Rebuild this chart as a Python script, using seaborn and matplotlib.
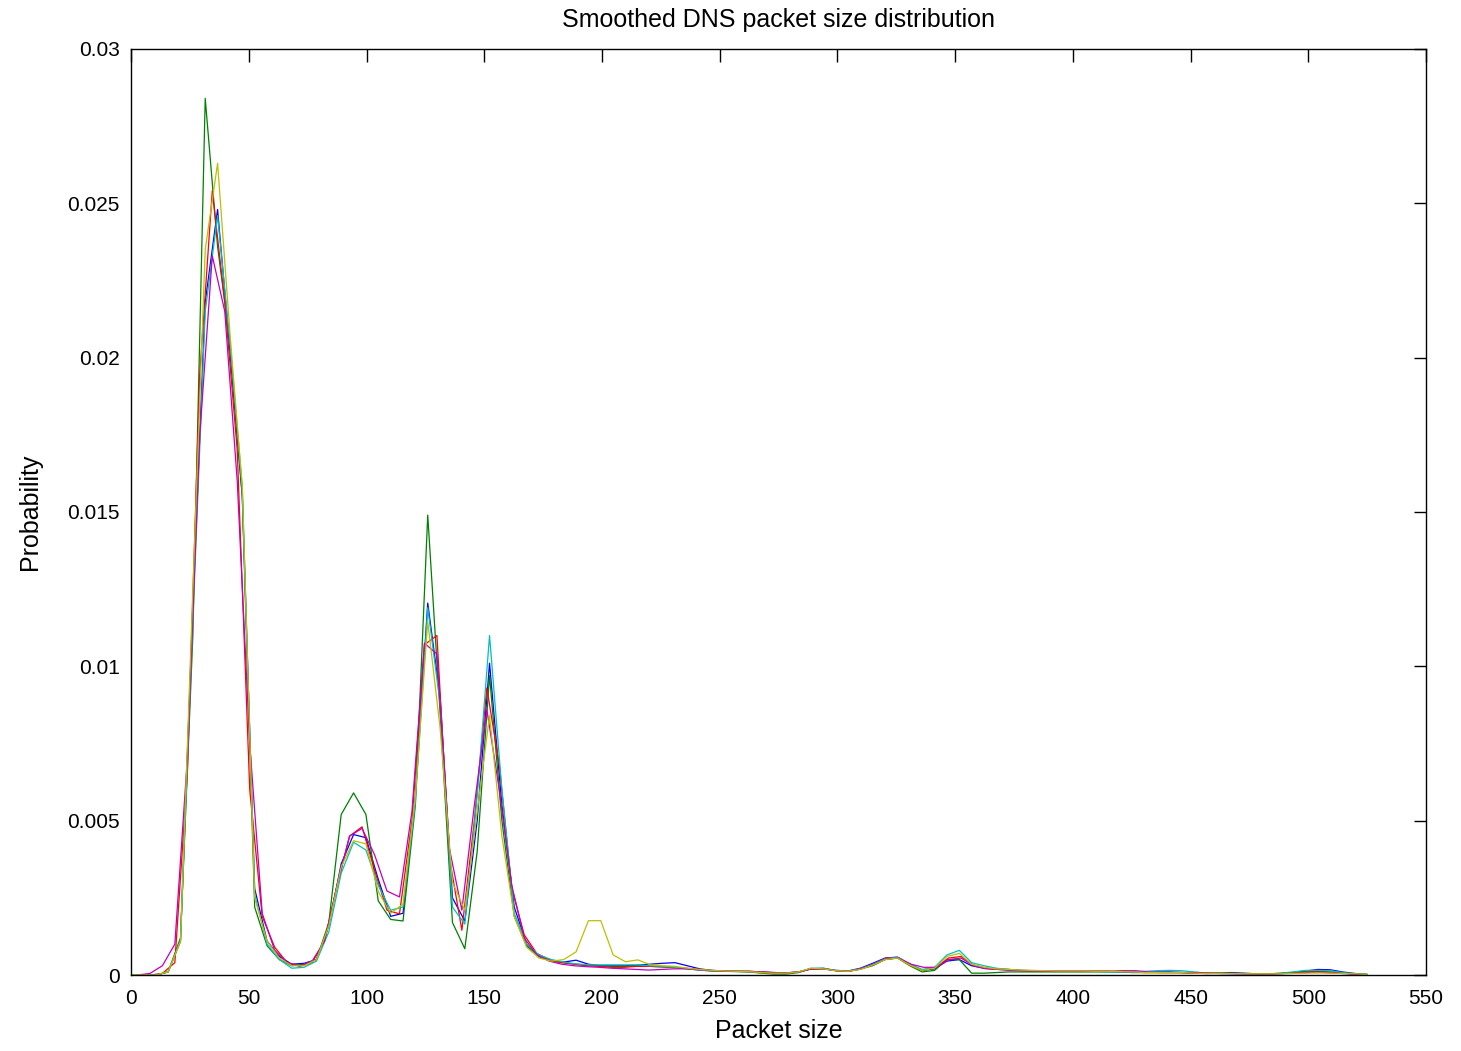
import numpy as np
import pandas as pd
import seaborn as sns
import matplotlib.pyplot as plt
from matplotlib.ticker import FuncFormatter

# packet size grids (two different bin layouts in the source data)
x_grid_a = np.linspace(0, 525, 101)          # blue, green, cyan, yellow
x_grid_r = 2.7 + 5.3 * np.arange(99)         # red, magenta

# probabilities, in units of 1e-3
blue = [0, 0, 0, 0.1, 1.1, 12, 21.8, 24.8, 20.2, 15.5,
        2.8, 1.1, 0.6, 0.35, 0.38, 0.5, 1.6, 3.6, 4.55, 4.45,
        3.1, 1.9, 2.0, 5.8, 12.05, 9.0, 2.5, 1.75, 5.0, 10.1,
        5.5, 2.2, 1.0, 0.6, 0.45, 0.42, 0.48, 0.35, 0.3, 0.3,
        0.3, 0.32, 0.35, 0.38, 0.4, 0.3, 0.2, 0.15, 0.13, 0.12,
        0.12, 0.1, 0.08, 0.07, 0.1, 0.2, 0.2, 0.15, 0.13, 0.22,
        0.38, 0.55, 0.58, 0.35, 0.15, 0.2, 0.45, 0.5, 0.3, 0.22,
        0.2, 0.18, 0.15, 0.14, 0.13, 0.12, 0.12, 0.12, 0.12, 0.12,
        0.1, 0.08, 0.08, 0.1, 0.1, 0.08, 0.06, 0.05, 0.06, 0.08,
        0.06, 0.04, 0.04, 0.05, 0.08, 0.13, 0.18, 0.17, 0.1, 0.05, 0.02]

green = [0, 0, 0, 0.1, 1.2, 11, 28.4, 23.6, 20.5, 15.5,
         2.2, 0.95, 0.5, 0.3, 0.35, 0.5, 1.7, 5.2, 5.9, 5.2,
         2.4, 1.8, 1.75, 5.5, 14.9, 8.5, 1.7, 0.85, 4.0, 9.7,
         5.0, 1.9, 0.95, 0.6, 0.45, 0.4, 0.35, 0.32, 0.3, 0.28,
         0.28, 0.3, 0.28, 0.26, 0.24, 0.2, 0.16, 0.13, 0.12, 0.11,
         0.1, 0.06, 0.03, 0.03, 0.08, 0.2, 0.22, 0.14, 0.12, 0.2,
         0.3, 0.5, 0.55, 0.3, 0.1, 0.15, 0.5, 0.5, 0.06, 0.06,
         0.08, 0.1, 0.1, 0.1, 0.1, 0.1, 0.1, 0.1, 0.1, 0.1,
         0.1, 0.1, 0.08, 0.08, 0.08, 0.08, 0.06, 0.05, 0.05, 0.05,
         0.04, 0.04, 0.04, 0.05, 0.08, 0.1, 0.12, 0.1, 0.06, 0.03, 0.02]

red = [0, 0, 0.05, 0.4, 6.5, 19.5, 25.4, 21.8, 17.0, 6.0,
       1.9, 0.9, 0.4, 0.28, 0.4, 1.1, 2.9, 4.5, 4.8, 3.4,
       2.1, 1.98, 5.0, 10.7, 11.0, 3.8, 1.45, 5.0, 9.3, 6.8,
       2.8, 1.3, 0.7, 0.5, 0.4, 0.35, 0.3, 0.28, 0.25, 0.25,
       0.28, 0.28, 0.27, 0.25, 0.22, 0.18, 0.15, 0.13, 0.12, 0.12,
       0.1, 0.08, 0.07, 0.1, 0.2, 0.2, 0.14, 0.12, 0.2, 0.35,
       0.55, 0.55, 0.3, 0.15, 0.25, 0.55, 0.6, 0.32, 0.22, 0.18,
       0.16, 0.14, 0.13, 0.12, 0.12, 0.12, 0.12, 0.12, 0.12, 0.12,
       0.1, 0.08, 0.08, 0.08, 0.08, 0.07, 0.06, 0.05, 0.05, 0.04,
       0.04, 0.04, 0.05, 0.07, 0.1, 0.1, 0.08, 0.05, 0.02]

cyan = [0, 0, 0, 0.1, 1.1, 11.5, 21.5, 24.6, 20.5, 15.8,
        2.6, 1.0, 0.5, 0.22, 0.25, 0.45, 1.4, 3.3, 4.3, 4.05,
        2.9, 2.1, 2.2, 5.6, 11.9, 8.8, 2.2, 1.65, 5.8, 11.0,
        6.0, 2.0, 1.0, 0.65, 0.5, 0.42, 0.36, 0.33, 0.33, 0.33,
        0.33, 0.33, 0.3, 0.28, 0.25, 0.2, 0.16, 0.13, 0.12, 0.12,
        0.1, 0.08, 0.06, 0.06, 0.1, 0.22, 0.22, 0.15, 0.13, 0.2,
        0.35, 0.52, 0.58, 0.35, 0.18, 0.25, 0.65, 0.8, 0.4, 0.3,
        0.22, 0.18, 0.15, 0.13, 0.12, 0.12, 0.12, 0.12, 0.12, 0.1,
        0.1, 0.1, 0.12, 0.14, 0.15, 0.14, 0.1, 0.06, 0.05, 0.05,
        0.05, 0.04, 0.04, 0.06, 0.1, 0.15, 0.15, 0.14, 0.08, 0.04, 0.02]

magenta = [0, 0.05, 0.3, 1.0, 7.0, 17.5, 23.3, 21.5, 16.0, 7.5,
           2.0, 0.8, 0.4, 0.3, 0.45, 1.1, 2.9, 4.5, 4.75, 3.9,
           2.72, 2.53, 5.3, 10.75, 10.4, 4.1, 2.1, 5.5, 8.6, 6.0,
           2.9, 1.2, 0.65, 0.45, 0.35, 0.3, 0.27, 0.25, 0.22, 0.2,
           0.18, 0.16, 0.18, 0.2, 0.2, 0.17, 0.14, 0.12, 0.12, 0.11,
           0.09, 0.07, 0.06, 0.1, 0.2, 0.2, 0.14, 0.12, 0.2, 0.35,
           0.52, 0.55, 0.35, 0.25, 0.25, 0.5, 0.55, 0.3, 0.2, 0.18,
           0.15, 0.14, 0.13, 0.12, 0.12, 0.12, 0.12, 0.12, 0.12, 0.14,
           0.14, 0.1, 0.08, 0.08, 0.08, 0.08, 0.06, 0.05, 0.04, 0.04,
           0.04, 0.04, 0.05, 0.06, 0.08, 0.08, 0.06, 0.04, 0.02]

yellow = [0, 0, 0, 0.1, 1.1, 12.5, 23.5, 26.3, 20.8, 15.8,
          2.5, 1.1, 0.55, 0.3, 0.3, 0.5, 1.6, 3.5, 4.35, 4.25,
          2.7, 2.0, 2.3, 5.8, 11.45, 8.0, 3.0, 2.1, 5.3, 8.4,
          4.5, 1.9, 0.9, 0.55, 0.45, 0.5, 0.75, 1.76, 1.76, 0.65,
          0.43, 0.49, 0.33, 0.3, 0.28, 0.22, 0.18, 0.15, 0.13, 0.12,
          0.11, 0.08, 0.06, 0.06, 0.1, 0.22, 0.2, 0.14, 0.12, 0.18,
          0.32, 0.5, 0.55, 0.32, 0.15, 0.22, 0.6, 0.7, 0.35, 0.25,
          0.2, 0.18, 0.16, 0.15, 0.14, 0.13, 0.13, 0.13, 0.12, 0.12,
          0.11, 0.1, 0.08, 0.08, 0.08, 0.08, 0.06, 0.05, 0.05, 0.05,
          0.04, 0.04, 0.04, 0.04, 0.05, 0.06, 0.07, 0.06, 0.05, 0.04, 0.02]

# MATLAB default line colours, in plot order
series = [("b", x_grid_a, blue, (0, 0, 1)),
          ("g", x_grid_a, green, (0, 0.5, 0)),
          ("r", x_grid_r, red, (1, 0, 0)),
          ("c", x_grid_a, cyan, (0, 0.75, 0.75)),
          ("m", x_grid_r, magenta, (0.75, 0, 0.75)),
          ("y", x_grid_a, yellow, (0.75, 0.75, 0))]

frames = []
for name, xs, ys, _ in series:
    frames.append(pd.DataFrame({"size": xs, "prob": np.array(ys) / 1000, "run": name}))
df = pd.concat(frames, ignore_index=True)
palette = {name: col for name, _, _, col in series}

sns.set_style("white")
plt.rcParams["font.family"] = ["Liberation Sans", "DejaVu Sans"]
plt.rcParams["text.color"] = "black"
plt.rcParams["axes.labelcolor"] = "black"

fig = plt.figure(figsize=(14.61, 10.51), dpi=100)
ax = fig.add_axes([0.0897, 0.0723, 0.8864, 0.8811])

sns.lineplot(data=df, x="size", y="prob", hue="run", palette=palette,
             estimator=None, sort=False, linewidth=0.9, legend=False, ax=ax)

ax.set_xlim(0, 550)
ax.set_ylim(0, 0.03)
ax.set_xticks(np.arange(0, 551, 50))
ax.set_yticks(np.arange(0, 0.0301, 0.005))
ax.yaxis.set_major_formatter(FuncFormatter(lambda v, p: "%g" % round(v, 4)))
ax.tick_params(direction="in", length=9, width=1, labelsize=15,
               top=True, right=True, colors="black", labelcolor="black")
ax.tick_params(axis="x", pad=10)
ax.tick_params(axis="y", pad=8)
for s in ax.spines.values():
    s.set_color("black")
    s.set_linewidth(1)
    s.set_visible(True)

ax.set_xlabel("Packet size", fontsize=18, labelpad=8, color="black")
ax.set_ylabel("Probability", fontsize=18, labelpad=18, color="black")
ax.set_title("Smoothed DNS packet size distribution", fontsize=18, pad=16, color="black")

fig.savefig("out.png", dpi=100, facecolor="white")
